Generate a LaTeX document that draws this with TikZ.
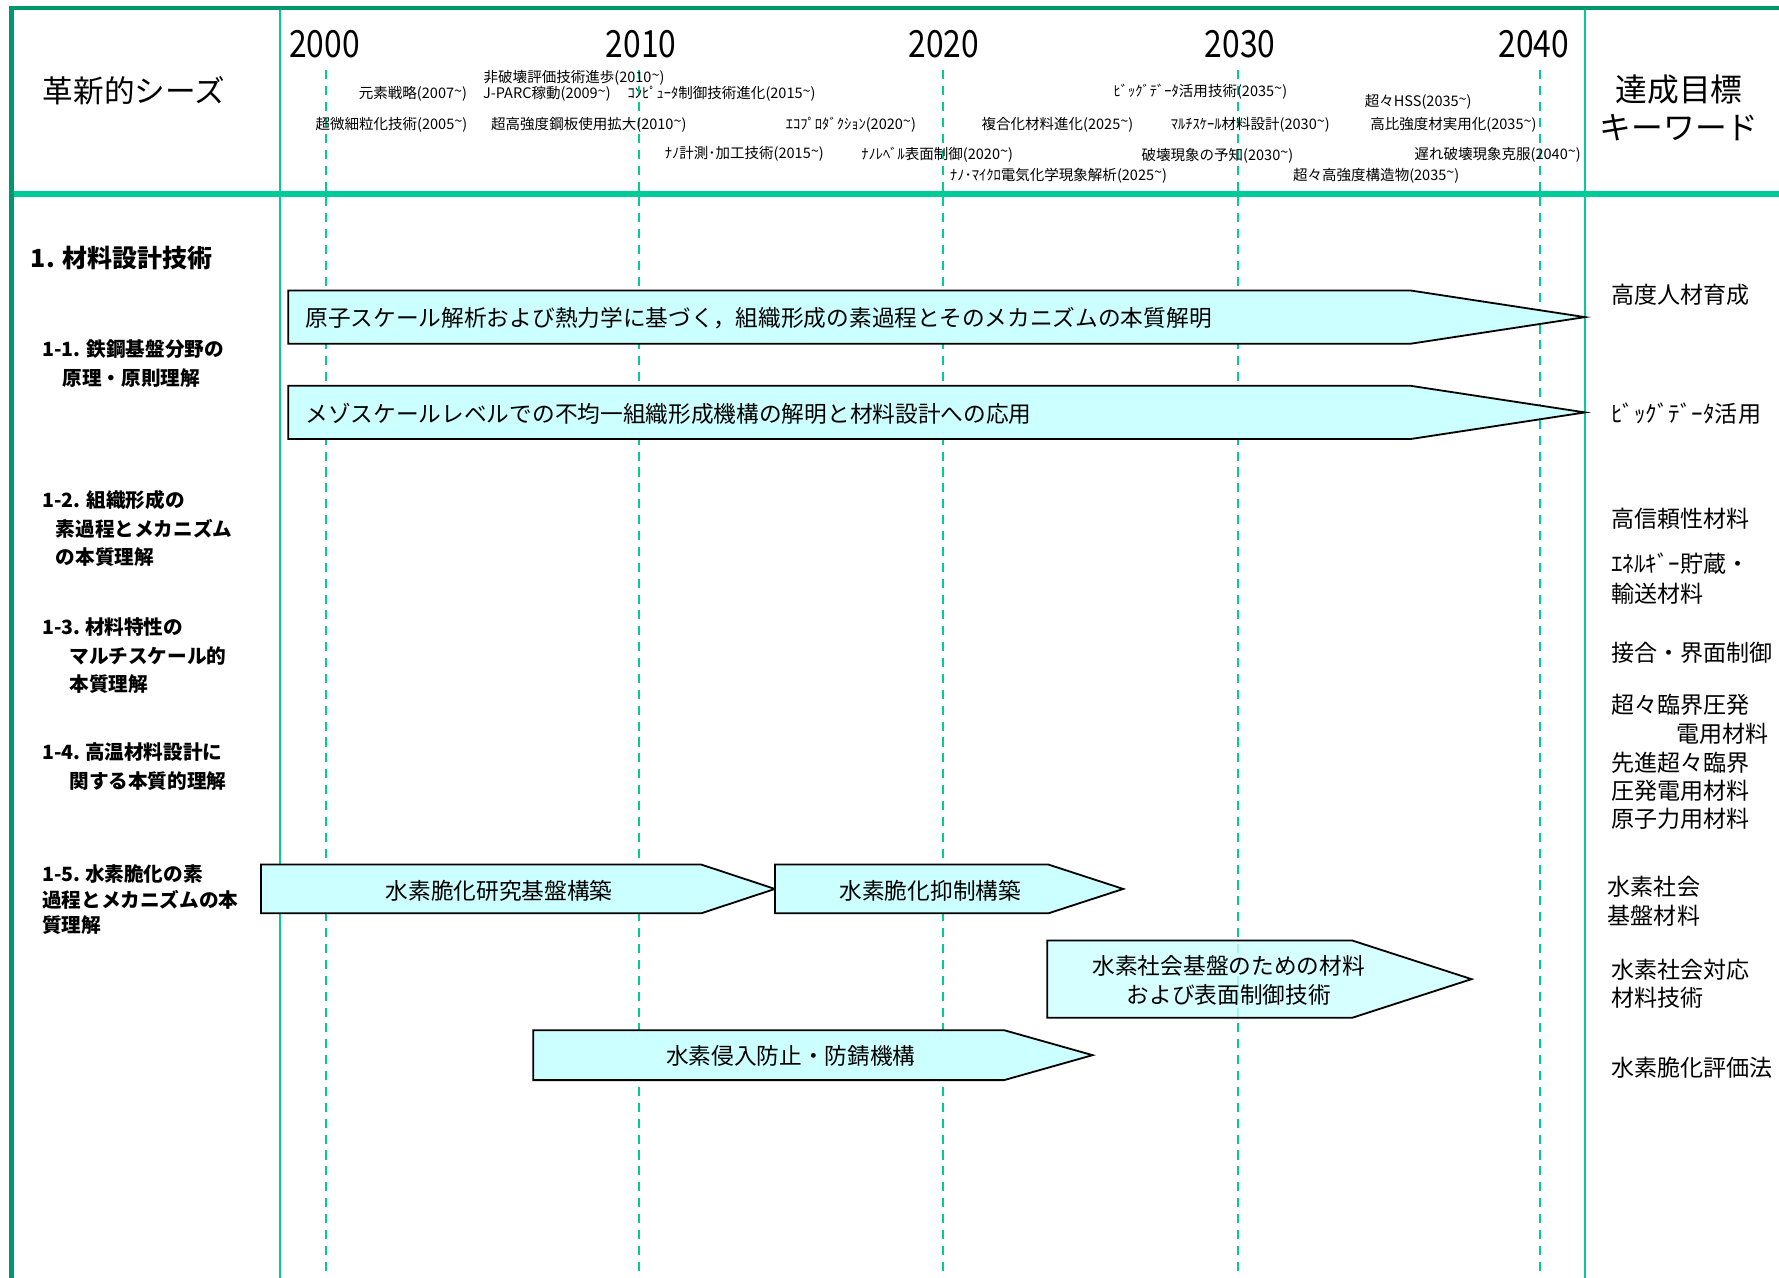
\documentclass[tikz,border=0pt]{standalone}
\usepackage{fontspec}
\setmainfont{Noto Sans CJK JP}
\usepackage{graphicx}
\definecolor{dgreen}{RGB}{0,150,112}
\definecolor{lgreen}{RGB}{0,204,153}
\definecolor{cyanf}{RGB}{204,255,255}
\newcommand{\tld}{\raisebox{0.35ex}{\textasciitilde}}
\newcommand{\yr}[1]{(#1\tld)}
\tikzset{
  frameline/.style={dgreen, line width=4pt},
  hline/.style={lgreen, line width=4.5pt},
  divline/.style={lgreen, line width=2pt},
  yearline/.style={lgreen, line width=1.8pt, dash pattern=on 8pt off 6pt},
  yearlab/.style={font=\fontsize{33}{36}\selectfont, inner sep=0pt},
  sm/.style={font=\fontsize{12.8}{14}\selectfont, inner sep=0pt},
  headtxt/.style={font=\fontsize{27}{34}\selectfont, inner sep=0pt, align=center},
  lab/.style={font=\bfseries\fontsize{17.3}{20}\selectfont, inner sep=0pt, anchor=west},
  kw/.style={font=\fontsize{20.3}{22}\selectfont, inner sep=0pt, anchor=west},
  arr/.style={draw=black, line width=1.6pt, fill=cyanf, line join=miter},
  atxt/.style={font=\fontsize{20}{26}\selectfont, inner sep=0pt, align=center}
}
\begin{document}
\begin{tikzpicture}[x=1pt,y=-1pt]
\useasboundingbox (0,0) rectangle (1568,1126);
% year dashed lines
\foreach \xx in {287,563,831,1091,1357}{
  \draw[yearline] (\xx,62) -- (\xx,1126);
}
% dividers
\draw[divline] (247,7) -- (247,1126);
\draw[divline] (1397,7) -- (1397,1126);
% header bottom line
\draw[hline] (10,171) -- (1568,171);
% outer frame
\draw[frameline, line join=miter] (10,1126) -- (10,7) -- (1568,7);

% year labels
\node[yearlab] (y2000) at (286,39) {\scalebox{0.85}[1]{2000}};
\node[yearlab] (y2010) at (565,39) {\scalebox{0.85}[1]{2010}};
\node[yearlab] (y2020) at (832,39) {\scalebox{0.85}[1]{2020}};
\node[yearlab] (y2030) at (1093,39) {\scalebox{0.85}[1]{2030}};
\node[yearlab] (y2040) at (1352,39) {\scalebox{0.85}[1]{2040}};

% header titles
\node[headtxt] (seeds) at (118,80) {革新的シーズ};
\node[headtxt, font=\fontsize{28}{33}\selectfont] (goal) at (1480,95) {達成目標\\キーワード};

% header seeds small texts
\node[sm] (s01) at (506,69) {非破壊評価技術進歩\yr{2010}};
\node[sm] (s02) at (364,83) {元素戦略\yr{2007}};
\node[sm] (s03) at (482,83) {J-PARC稼動\yr{2009}};
\node[sm] (s04) at (636,83) {ｺﾝﾋﾟｭｰﾀ制御技術進化\yr{2015}};
\node[sm] (s05) at (1058,81) {ﾋﾞｯｸﾞﾃﾞｰﾀ活用技術\yr{2035}};
\node[sm] (s06) at (1250,90) {超々HSS\yr{2035}};
\node[sm] (s07) at (345,110) {超微細粒化技術\yr{2005}};
\node[sm] (s08) at (519,110) {超高強度鋼板使用拡大\yr{2010}};
\node[sm] (s09) at (750,110) {ｴｺﾌﾟﾛﾀﾞｸｼｮﾝ\yr{2020}};
\node[sm] (s10) at (932,110) {複合化材料進化\yr{2025}};
\node[sm] (s11) at (1102,110) {ﾏﾙﾁｽｹｰﾙ材料設計\yr{2030}};
\node[sm] (s12) at (1281,110) {高比強度材実用化\yr{2035}};
\node[sm] (s13) at (656,136) {ﾅﾉ計測･加工技術\yr{2015}};
\node[sm] (s14) at (826,136) {ﾅﾉﾚﾍﾞﾙ表面制御\yr{2020}};
\node[sm] (s15) at (1073,137) {破壊現象の予知\yr{2030}};
\node[sm] (s16) at (1320,136) {遅れ破壊現象克服\yr{2040}};
\node[sm] (s17) at (933,155) {ﾅﾉ･ﾏｲｸﾛ電気化学現象解析\yr{2025}};
\node[sm] (s18) at (1213,155) {超々高強度構造物\yr{2035}};

% left column labels
\node[lab, font=\bfseries\fontsize{22}{26}\selectfont] (sec1) at (27,227) {1. 材料設計技術};
\node[lab] (l11a) at (37,308) {1-1. 鉄鋼基盤分野の};
\node[lab] (l11b) at (55,333) {原理・原則理解};
\node[lab] (l12a) at (37,441) {1-2. 組織形成の};
\node[lab] (l12b) at (49,466) {素過程とメカニズム};
\node[lab] (l12c) at (49,491) {の本質理解};
\node[lab] (l13a) at (37,553) {1-3.\ 材料特性の};
\node[lab] (l13b) at (61,578) {マルチスケール的};
\node[lab] (l13c) at (61,603) {本質理解};
\node[lab] (l14a) at (37,663) {1-4.\ 高温材料設計に};
\node[lab] (l14b) at (61,688) {関する本質的理解};
\node[lab] (l15a) at (37,770) {1-5.\ 水素脆化の素};
\node[lab] (l15b) at (37,793) {過程とメカニズムの本};
\node[lab] (l15c) at (37,815) {質理解};

% right keywords
\node[kw] (k01) at (1420,260) {高度人材育成};
\node[kw] (k02) at (1420,365) {ﾋﾞｯｸﾞﾃﾞｰﾀ活用};
\node[kw] (k03) at (1420,457) {高信頼性材料};
\node[kw] (k04) at (1420,497) {ｴﾈﾙｷﾞｰ貯蔵・};
\node[kw] (k05) at (1420,523) {輸送材料};
\node[kw] (k06) at (1420,575) {接合・界面制御};
\node[kw] (k07) at (1420,621) {超々臨界圧発};
\node[kw] (k08) at (1477,647) {電用材料};
\node[kw] (k09) at (1420,672) {先進超々臨界};
\node[kw] (k10) at (1420,697) {圧発電用材料};
\node[kw] (k11) at (1420,722) {原子力用材料};
\node[kw] (k12) at (1417,782) {水素社会};
\node[kw] (k13) at (1417,807) {基盤材料};
\node[kw] (k14) at (1420,855) {水素社会対応};
\node[kw] (k15) at (1420,879) {材料技術};
\node[kw] (k16) at (1420,941) {水素脆化評価法};

% arrows
\draw[arr] (254,256) -- (1243,256) -- (1397,279.5) -- (1243,303) -- (254,303) -- cycle;
\node[atxt, anchor=west] (a1) at (269,280) {原子スケール解析および熱力学に基づく，組織形成の素過程とそのメカニズムの本質解明};
\draw[arr] (254,340) -- (1243,340) -- (1397,363.5) -- (1243,387) -- (254,387) -- cycle;
\node[atxt, anchor=west] (a2) at (269,365) {メゾスケールレベルでの不均一組織形成機構の解明と材料設計への応用};
\draw[arr] (230,762) -- (618,762) -- (683,783.5) -- (618,805) -- (230,805) -- cycle;
\node[atxt] (a3) at (440,785) {水素脆化研究基盤構築};
\draw[arr] (683,762) -- (924,762) -- (990,783.5) -- (924,805) -- (683,805) -- cycle;
\node[atxt] (a4) at (820,785) {水素脆化抑制構築};
\draw[arr, fill opacity=0.8] (923,829) -- (1192,829) -- (1297,863) -- (1192,897) -- (923,897) -- cycle;
\node[atxt] (a5) at (1083,864) {水素社会基盤のための材料\\および表面制御技術};
\draw[arr] (470,908) -- (885,908) -- (963,930) -- (885,952) -- (470,952) -- cycle;
\node[atxt] (a6) at (697,931) {水素侵入防止・防錆機構};
\end{tikzpicture}
\end{document}
